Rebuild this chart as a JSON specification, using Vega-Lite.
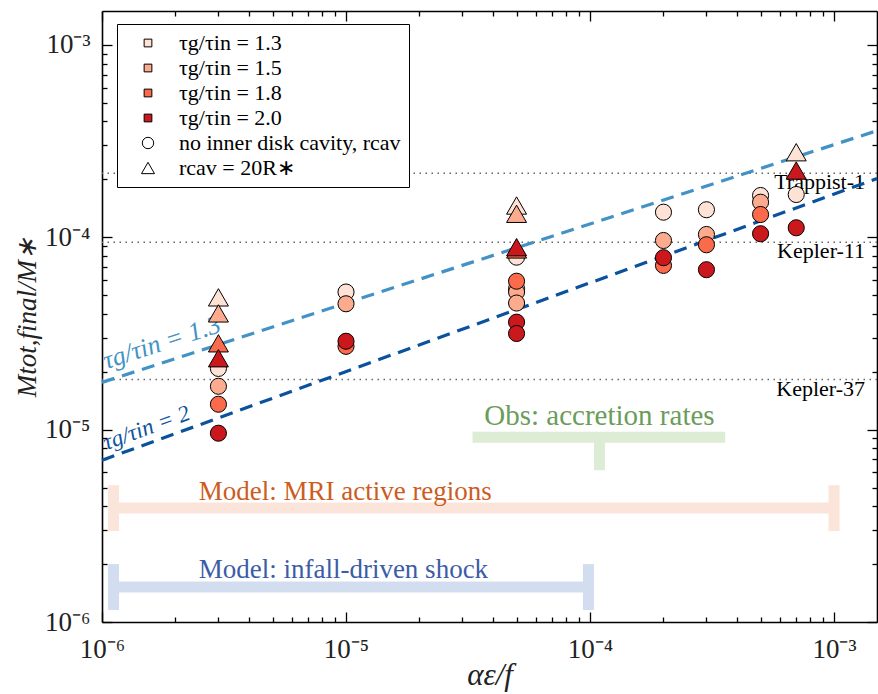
{
  "$schema": "https://vega.github.io/schema/vega-lite/v6.json",
  "width": 775,
  "height": 611,
  "autosize": {"type": "none"},
  "padding": {"left": 102, "top": 11, "right": 1, "bottom": 72},
  "background": "white",
  "config": {
    "view": {"stroke": null},
    "font": "Liberation Serif",
    "axis": {"grid": false}
  },
  "resolve": {
    "axis": {"x": "independent", "y": "independent"},
    "scale": {"fill": "independent", "shape": "independent", "size": "independent", "stroke": "independent"}
  },
  "layer": [
    {
      "data": {"values": [
        {"x": 3.30e-5, "x2": 3.58e-4, "y": 9.13e-6, "y2": 9.13e-6, "g": "obs"},
        {"x": 1.093e-4, "x2": 1.093e-4, "y": 9.13e-6, "y2": 6.15e-6, "g": "obs"},
        {"x": 1.115e-6, "x2": 1.0e-3, "y": 3.91e-6, "y2": 3.91e-6, "g": "mri"},
        {"x": 1.115e-6, "x2": 1.115e-6, "y": 2.97e-6, "y2": 5.14e-6, "g": "mri"},
        {"x": 1.0e-3, "x2": 1.0e-3, "y": 2.97e-6, "y2": 5.14e-6, "g": "mri"},
        {"x": 1.115e-6, "x2": 9.85e-5, "y": 1.52e-6, "y2": 1.52e-6, "g": "inf"},
        {"x": 1.115e-6, "x2": 1.115e-6, "y": 1.154e-6, "y2": 2.0e-6, "g": "inf"},
        {"x": 9.85e-5, "x2": 9.85e-5, "y": 1.154e-6, "y2": 2.0e-6, "g": "inf"}
      ]},
      "mark": {"type": "rule", "strokeWidth": 11, "strokeCap": "butt"},
      "encoding": {
        "x": {"field": "x", "type": "quantitative", "scale": {"type": "log", "domain": [1e-6, 1.5e-3], "nice": false, "zero": false}, "axis": null},
        "x2": {"field": "x2"},
        "y": {"field": "y", "type": "quantitative", "scale": {"type": "log", "domain": [1e-6, 1.5e-3], "nice": false, "zero": false}, "axis": null},
        "y2": {"field": "y2"},
        "stroke": {"field": "g", "type": "nominal", "scale": {"domain": ["obs", "mri", "inf"], "range": ["#dcecd5", "#fbe5da", "#d3ddf0"]}, "legend": null}
      }
    },
    {
      "data": {"values": [
        {"x": 1.093e-4, "y": 1.054e-5, "t": "Obs: accretion rates"}
      ]},
      "mark": {"type": "text", "align": "center", "baseline": "alphabetic", "fontSize": 29, "font": "Liberation Serif", "color": "#6b9d5a"},
      "encoding": {
        "x": {"field": "x", "type": "quantitative", "axis": null},
        "y": {"field": "y", "type": "quantitative", "axis": null},
        "text": {"field": "t"}
      }
    },
    {
      "data": {"values": [
        {"x": 2.49e-6, "y": 4.30e-6, "t": "Model: MRI active regions"}
      ]},
      "mark": {"type": "text", "align": "left", "baseline": "alphabetic", "fontSize": 27, "font": "Liberation Serif", "color": "#cd5c22"},
      "encoding": {
        "x": {"field": "x", "type": "quantitative", "axis": null},
        "y": {"field": "y", "type": "quantitative", "axis": null},
        "text": {"field": "t"}
      }
    },
    {
      "data": {"values": [
        {"x": 2.49e-6, "y": 1.692e-6, "t": "Model: infall-driven shock"}
      ]},
      "mark": {"type": "text", "align": "left", "baseline": "alphabetic", "fontSize": 27, "font": "Liberation Serif", "color": "#3b5ca7"},
      "encoding": {
        "x": {"field": "x", "type": "quantitative", "axis": null},
        "y": {"field": "y", "type": "quantitative", "axis": null},
        "text": {"field": "t"}
      }
    },
    {
      "data": {"values": [
        {"y": 2.153e-4, "t": "Trappist-1"},
        {"y": 9.43e-5, "t": "Kepler-11"},
        {"y": 1.82e-5, "t": "Kepler-37"}
      ]},
      "layer": [
        {
          "mark": {"type": "rule", "color": "#666666", "strokeWidth": 1.5, "strokeDash": [1.5, 4.5]},
          "encoding": {"y": {"field": "y", "type": "quantitative", "axis": null}}
        },
        {
          "mark": {"type": "text", "align": "right", "baseline": "middle", "dy": 9, "fontSize": 22, "font": "Liberation Serif", "color": "black"},
          "encoding": {
            "x": {"datum": 0.00134, "type": "quantitative", "axis": null},
            "y": {"field": "y", "type": "quantitative", "axis": null},
            "text": {"field": "t"}
          }
        }
      ]
    },
    {
      "data": {"values": [
        {"x": 1e-6, "y": 1.76e-5},
        {"x": 1.5e-3, "y": 3.58e-4}
      ]},
      "mark": {"type": "line", "color": "#4292c6", "strokeWidth": 3.2, "strokeDash": [13, 8]},
      "encoding": {
        "x": {"field": "x", "type": "quantitative", "axis": null},
        "y": {"field": "y", "type": "quantitative", "axis": null}
      }
    },
    {
      "data": {"values": [
        {"x": 1e-6, "y": 6.93e-6},
        {"x": 1.5e-3, "y": 2.02e-4}
      ]},
      "mark": {"type": "line", "color": "#0b529e", "strokeWidth": 3.2, "strokeDash": [13, 8]},
      "encoding": {
        "x": {"field": "x", "type": "quantitative", "axis": null},
        "y": {"field": "y", "type": "quantitative", "axis": null}
      }
    },
    {
      "data": {"values": [{"x": 1.04e-6, "y": 2.06e-5, "t": "τg/τin = 1.3"}]},
      "mark": {"type": "text", "align": "left", "baseline": "alphabetic", "angle": 342, "fontSize": 26, "font": "Liberation Serif", "fontStyle": "italic", "color": "#4292c6"},
      "encoding": {
        "x": {"field": "x", "type": "quantitative", "axis": null},
        "y": {"field": "y", "type": "quantitative", "axis": null},
        "text": {"field": "t"}
      }
    },
    {
      "data": {"values": [{"x": 1.04e-6, "y": 7.82e-6, "t": "τg/τin = 2"}]},
      "mark": {"type": "text", "align": "left", "baseline": "alphabetic", "angle": 340, "fontSize": 23, "font": "Liberation Serif", "fontStyle": "italic", "color": "#0b529e"},
      "encoding": {
        "x": {"field": "x", "type": "quantitative", "axis": null},
        "y": {"field": "y", "type": "quantitative", "axis": null},
        "text": {"field": "t"}
      }
    },
    {
      "data": {"values": [
        {"x": 3e-6, "y": 2.08e-5, "tau": "1.3"},
        {"x": 1e-5, "y": 5.19e-5, "tau": "1.3"},
        {"x": 5e-5, "y": 7.88e-5, "tau": "1.3"},
        {"x": 5e-5, "y": 5.40e-5, "tau": "1.3"},
        {"x": 2e-4, "y": 1.35e-4, "tau": "1.3"},
        {"x": 3e-4, "y": 1.39e-4, "tau": "1.3"},
        {"x": 5e-4, "y": 1.648e-4, "tau": "1.3"},
        {"x": 7e-4, "y": 1.668e-4, "tau": "1.3"},
        {"x": 3e-6, "y": 1.68e-5, "tau": "1.5"},
        {"x": 1e-5, "y": 4.51e-5, "tau": "1.5"},
        {"x": 5e-5, "y": 5.19e-5, "tau": "1.5"},
        {"x": 5e-5, "y": 4.55e-5, "tau": "1.5"},
        {"x": 2e-4, "y": 9.62e-5, "tau": "1.5"},
        {"x": 3e-4, "y": 1.034e-4, "tau": "1.5"},
        {"x": 5e-4, "y": 1.521e-4, "tau": "1.5"},
        {"x": 3e-6, "y": 1.355e-5, "tau": "1.8"},
        {"x": 1e-5, "y": 2.71e-5, "tau": "1.8"},
        {"x": 5e-5, "y": 5.91e-5, "tau": "1.8"},
        {"x": 2e-4, "y": 7.14e-5, "tau": "1.8"},
        {"x": 3e-4, "y": 9.14e-5, "tau": "1.8"},
        {"x": 5e-4, "y": 1.313e-4, "tau": "1.8"},
        {"x": 3e-6, "y": 9.58e-6, "tau": "2.0"},
        {"x": 1e-5, "y": 2.88e-5, "tau": "2.0"},
        {"x": 5e-5, "y": 3.62e-5, "tau": "2.0"},
        {"x": 5e-5, "y": 3.16e-5, "tau": "2.0"},
        {"x": 2e-4, "y": 7.83e-5, "tau": "2.0"},
        {"x": 3e-4, "y": 6.78e-5, "tau": "2.0"},
        {"x": 5e-4, "y": 1.043e-4, "tau": "2.0"},
        {"x": 7e-4, "y": 1.12e-4, "tau": "2.0"}
      ]},
      "mark": {"type": "point", "shape": "circle", "filled": true, "size": 260, "opacity": 1},
      "encoding": {
        "x": {"field": "x", "type": "quantitative", "axis": {
          "orient": "bottom",
          "values": [1e-6, 2e-6, 3e-6, 4e-6, 5e-6, 6e-6, 7e-6, 8e-6, 9e-6, 1e-5, 2e-5, 3e-5, 4e-5, 5e-5, 6e-5, 7e-5, 8e-5, 9e-5, 1e-4, 2e-4, 3e-4, 4e-4, 5e-4, 6e-4, 7e-4, 8e-4, 9e-4, 1e-3],
          "labelExpr": "datum.value == 0.000001 ? '10⁻⁶' : datum.value == 0.00001 ? '10⁻⁵' : datum.value == 0.0001 ? '10⁻⁴' : datum.value == 0.001 ? '10⁻³' : ''",
          "tickSize": {"condition": {"test": "datum.value == 0.000001 || datum.value == 0.00001 || datum.value == 0.0001 || datum.value == 0.001", "value": -10}, "value": -5},
          "tickColor": "black", "tickWidth": 1.3,
          "domainColor": "black", "domainWidth": 1.6,
          "labelFont": "Liberation Serif", "labelFontSize": 27, "labelColor": "#222222", "labelPadding": 24,
          "labelOverlap": false, "labelFlush": false,
          "title": "αε/f", "titleFont": "Liberation Serif", "titleFontSize": 31, "titleFontStyle": "italic", "titleFontWeight": "normal", "titleColor": "#222222", "titlePadding": -7
        }},
        "y": {"field": "y", "type": "quantitative", "axis": {
          "orient": "left",
          "values": [1e-6, 2e-6, 3e-6, 4e-6, 5e-6, 6e-6, 7e-6, 8e-6, 9e-6, 1e-5, 2e-5, 3e-5, 4e-5, 5e-5, 6e-5, 7e-5, 8e-5, 9e-5, 1e-4, 2e-4, 3e-4, 4e-4, 5e-4, 6e-4, 7e-4, 8e-4, 9e-4, 1e-3],
          "labelExpr": "datum.value == 0.000001 ? '10⁻⁶' : datum.value == 0.00001 ? '10⁻⁵' : datum.value == 0.0001 ? '10⁻⁴' : datum.value == 0.001 ? '10⁻³' : ''",
          "tickSize": {"condition": {"test": "datum.value == 0.000001 || datum.value == 0.00001 || datum.value == 0.0001 || datum.value == 0.001", "value": -10}, "value": -5},
          "tickColor": "black", "tickWidth": 1.3,
          "domainColor": "black", "domainWidth": 1.6,
          "labelFont": "Liberation Serif", "labelFontSize": 27, "labelColor": "#222222", "labelPadding": 22,
          "labelOverlap": false, "labelFlush": false,
          "title": "Mtot,final/M∗", "titleFont": "Liberation Serif", "titleFontSize": 27, "titleFontStyle": "italic", "titleFontWeight": "normal", "titleColor": "#222222", "titlePadding": 3
        }},
        "fill": {"field": "tau", "type": "nominal", "scale": {"domain": ["1.3", "1.5", "1.8", "2.0"], "range": ["#fee2d5", "#fcab8f", "#fb6a4a", "#cb181d"]}, "legend": null},
        "stroke": {"value": "black"},
        "strokeWidth": {"value": 1}
      }
    },
    {
      "data": {"values": [
        {"x": 3e-6, "y": 4.87e-5, "tau": "1.3"},
        {"x": 5e-5, "y": 1.462e-4, "tau": "1.3"},
        {"x": 7e-4, "y": 2.767e-4, "tau": "1.3"},
        {"x": 3e-6, "y": 4.02e-5, "tau": "1.5"},
        {"x": 5e-5, "y": 1.324e-4, "tau": "1.5"},
        {"x": 3e-6, "y": 2.81e-5, "tau": "1.8"},
        {"x": 5e-5, "y": 8.64e-5, "tau": "1.8"},
        {"x": 3e-6, "y": 2.35e-5, "tau": "2.0"},
        {"x": 5e-5, "y": 8.88e-5, "tau": "2.0"},
        {"x": 7e-4, "y": 2.222e-4, "tau": "2.0"}
      ]},
      "mark": {"type": "point", "shape": "triangle-up", "filled": true, "size": 400, "opacity": 1},
      "encoding": {
        "x": {"field": "x", "type": "quantitative", "axis": {
          "orient": "top",
          "values": [1e-6, 2e-6, 3e-6, 4e-6, 5e-6, 6e-6, 7e-6, 8e-6, 9e-6, 1e-5, 2e-5, 3e-5, 4e-5, 5e-5, 6e-5, 7e-5, 8e-5, 9e-5, 1e-4, 2e-4, 3e-4, 4e-4, 5e-4, 6e-4, 7e-4, 8e-4, 9e-4, 1e-3],
          "labels": false, "title": null,
          "tickSize": {"condition": {"test": "datum.value == 0.000001 || datum.value == 0.00001 || datum.value == 0.0001 || datum.value == 0.001", "value": -10}, "value": -5},
          "tickColor": "black", "tickWidth": 1.3,
          "domainColor": "black", "domainWidth": 1.6
        }},
        "y": {"field": "y", "type": "quantitative", "axis": {
          "orient": "right",
          "values": [1e-6, 2e-6, 3e-6, 4e-6, 5e-6, 6e-6, 7e-6, 8e-6, 9e-6, 1e-5, 2e-5, 3e-5, 4e-5, 5e-5, 6e-5, 7e-5, 8e-5, 9e-5, 1e-4, 2e-4, 3e-4, 4e-4, 5e-4, 6e-4, 7e-4, 8e-4, 9e-4, 1e-3],
          "labels": false, "title": null,
          "tickSize": {"condition": {"test": "datum.value == 0.000001 || datum.value == 0.00001 || datum.value == 0.0001 || datum.value == 0.001", "value": -10}, "value": -5},
          "tickColor": "black", "tickWidth": 1.3,
          "domainColor": "black", "domainWidth": 1.6
        }},
        "fill": {"field": "tau", "type": "nominal", "scale": {"domain": ["1.3", "1.5", "1.8", "2.0"], "range": ["#fee2d5", "#fcab8f", "#fb6a4a", "#cb181d"]}, "legend": null},
        "stroke": {"value": "black"},
        "strokeWidth": {"value": 1}
      }
    },
    {
      "data": {"values": []},
      "mark": {"type": "point", "filled": true, "opacity": 1, "strokeWidth": 1},
      "encoding": {
        "x": {"field": "x", "type": "quantitative", "axis": null},
        "y": {"field": "y", "type": "quantitative", "axis": null},
        "stroke": {"field": "leg", "type": "nominal",
          "scale": {"domain": ["τg/τin = 1.3", "τg/τin = 1.5", "τg/τin = 1.8", "τg/τin = 2.0", "no inner disk cavity, rcav", "rcav = 20R∗"], "range": ["black", "black", "black", "black", "black", "black"]},
          "legend": {"title": null, "orient": "none", "legendX": 15, "legendY": 13, "padding": 8, "symbolOffset": 12, "labelOffset": 20, "rowPadding": 3, "labelFont": "Liberation Serif", "labelFontSize": 22, "labelColor": "black", "strokeColor": "black", "fillColor": "white", "symbolStrokeWidth": 1, "labelLimit": 400}},
        "fill": {"field": "leg", "type": "nominal",
          "scale": {"domain": ["τg/τin = 1.3", "τg/τin = 1.5", "τg/τin = 1.8", "τg/τin = 2.0", "no inner disk cavity, rcav", "rcav = 20R∗"], "range": ["#fee2d5", "#fcab8f", "#fb6a4a", "#cb181d", "white", "white"]},
          "legend": {"title": null, "orient": "none", "legendX": 15, "legendY": 13, "padding": 8, "symbolOffset": 12, "labelOffset": 20, "rowPadding": 3, "labelFont": "Liberation Serif", "labelFontSize": 22, "labelColor": "black", "strokeColor": "black", "fillColor": "white", "symbolStrokeWidth": 1, "labelLimit": 400}},
        "shape": {"field": "leg", "type": "nominal",
          "scale": {"domain": ["τg/τin = 1.3", "τg/τin = 1.5", "τg/τin = 1.8", "τg/τin = 2.0", "no inner disk cavity, rcav", "rcav = 20R∗"], "range": ["square", "square", "square", "square", "circle", "triangle-up"]},
          "legend": {"title": null, "orient": "none", "legendX": 15, "legendY": 13, "padding": 8, "symbolOffset": 12, "labelOffset": 20, "rowPadding": 3, "labelFont": "Liberation Serif", "labelFontSize": 22, "labelColor": "black", "strokeColor": "black", "fillColor": "white", "symbolStrokeWidth": 1, "labelLimit": 400}},
        "size": {"field": "leg", "type": "nominal",
          "scale": {"type": "ordinal", "domain": ["τg/τin = 1.3", "τg/τin = 1.5", "τg/τin = 1.8", "τg/τin = 2.0", "no inner disk cavity, rcav", "rcav = 20R∗"], "range": [60, 60, 60, 60, 130, 170]},
          "legend": {"title": null, "orient": "none", "legendX": 15, "legendY": 13, "padding": 8, "symbolOffset": 12, "labelOffset": 20, "rowPadding": 3, "labelFont": "Liberation Serif", "labelFontSize": 22, "labelColor": "black", "strokeColor": "black", "fillColor": "white", "symbolStrokeWidth": 1, "labelLimit": 400}}
      }
    }
  ]
}
